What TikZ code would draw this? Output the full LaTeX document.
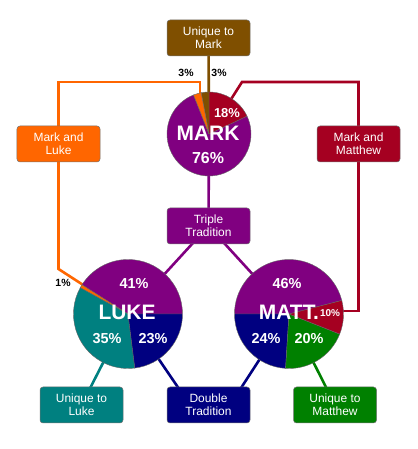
\documentclass[tikz,border=0pt]{standalone}
\usepackage{fontspec}
\setmainfont{Liberation Sans}
\usetikzlibrary{backgrounds}
\definecolor{mpurple}{HTML}{800080}
\definecolor{mred}{HTML}{A50021}
\definecolor{morange}{HTML}{FF6600}
\definecolor{mbrown}{HTML}{7F4F00}
\definecolor{mteal}{HTML}{008080}
\definecolor{mnavy}{HTML}{000080}
\definecolor{mgreen}{HTML}{008000}
\tikzset{
  box/.style={rectangle, rounded corners=3bp, draw=black!55, line width=0.5bp,
    minimum width=83bp, minimum height=36bp, text=white, align=center,
    font=\fontsize{12}{13.5}\selectfont, inner sep=0pt},
  conn/.style={line width=2.6bp},
  slice/.style={draw=black!60, line width=0.4bp},
  pct/.style={text=white, font=\bfseries\fontsize{14.5}{14.5}\selectfont, inner sep=0pt},
  big/.style={text=white, font=\bfseries\fontsize{21}{21}\selectfont, inner sep=0pt},
  small/.style={text=black, font=\bfseries\fontsize{10.5}{10.5}\selectfont, inner sep=0pt}
}
\newcommand{\pieslice}[5]{% center, radius, start, end, color
  \filldraw[slice, fill=#5] (#1) -- ++(#3:#2) arc[start angle=#3, end angle=#4, radius=#2] -- cycle;}
\begin{document}
\begin{tikzpicture}[x=1bp,y=1bp]
\useasboundingbox (0,0) rectangle (417,449);
% centers
\coordinate (markc) at (209,315);
\coordinate (lukec) at (128,135);
\coordinate (mattc) at (289,135);
% boxes
\node[box, fill=mbrown] (umark) at (208.5,411) {Unique to\\Mark};
\node[box, fill=morange] (mluke) at (58.5,305) {Mark and\\Luke};
\node[box, fill=mred] (mmatt) at (358.5,305) {Mark and\\Matthew};
\node[box, fill=mpurple] (triple) at (208.5,223) {Triple\\Tradition};
\node[box, fill=mteal] (uluke) at (81.5,44) {Unique to\\Luke};
\node[box, fill=mnavy] (dbl) at (208.5,44) {Double\\Tradition};
\node[box, fill=mgreen] (umatt) at (335,44) {Unique to\\Matthew};
% connector waypoints
\coordinate (otop) at (58.5,367);
\coordinate (otopr) at (200,367);
\coordinate (omark) at (200,315);
\coordinate (obot) at (58.5,180);
\coordinate (rtop) at (358.5,367);
\coordinate (rtopl) at (242,367);
\coordinate (rbot) at (358.5,138);
\coordinate (rmatt) at (289,138);
\coordinate (dl) at (190,44);
\coordinate (dr) at (230,44);
% connectors (behind)
\begin{scope}[on background layer]
\draw[conn, mbrown] (umark.center) -- (markc);
\draw[conn, morange] (mluke.center) -- (otop) -- (otopr) -- (omark);
\draw[conn, morange] (mluke.center) -- (obot) -- (lukec);
\draw[conn, mred] (mmatt.center) -- (rtop) -- (rtopl) -- (markc);
\draw[conn, mred] (mmatt.center) -- (rbot) -- (rmatt);
\draw[conn, mpurple] (markc) -- (triple.center);
\draw[conn, mpurple] (triple.center) -- (lukec);
\draw[conn, mpurple] (triple.center) -- (mattc);
\draw[conn, mnavy] (dl) -- (lukec);
\draw[conn, mnavy] (dr) -- (mattc);
\draw[conn, mteal] (uluke.center) -- (lukec);
\draw[conn, mgreen] (umatt.center) -- (mattc);
\end{scope}
% Mark pie
\pieslice{markc}{42}{111.6}{385.2}{mpurple}
\pieslice{markc}{42}{25.2}{90}{mred}
\pieslice{markc}{42}{90}{100.8}{mbrown}
\pieslice{markc}{42}{100.8}{111.6}{morange}
% Luke pie
\pieslice{lukec}{54.5}{0}{147.6}{mpurple}
\pieslice{lukec}{54.5}{147.6}{151.2}{morange}
\pieslice{lukec}{54.5}{151.2}{277.2}{mteal}
\pieslice{lukec}{54.5}{277.2}{360}{mnavy}
% Matt pie
\pieslice{mattc}{54.5}{14.4}{180}{mpurple}
\pieslice{mattc}{54.5}{180}{266.4}{mnavy}
\pieslice{mattc}{54.5}{266.4}{338.4}{mgreen}
\pieslice{mattc}{54.5}{338.4}{374.4}{mred}
% labels
\node[pct, font=\bfseries\fontsize{13}{13}\selectfont] (m18) at (227,336) {18\%};
\node[big] (markt) at (208,316) {MARK};
\node[pct, font=\bfseries\fontsize{16}{16}\selectfont] (m76) at (208,291) {76\%};
\node[pct] (l41) at (134,165) {41\%};
\node[big] (luket) at (127,137) {LUKE};
\node[pct] (l35) at (107,110) {35\%};
\node[pct] (l23) at (153,110) {23\%};
\node[pct] (t46) at (287,165) {46\%};
\node[big] (mattt) at (289,137) {MATT.};
\node[pct, font=\bfseries\fontsize{10}{10}\selectfont] (t10) at (330,136) {10\%};
\node[pct] (t24) at (266,110) {24\%};
\node[pct] (t20) at (309,110) {20\%};
\node[small] (p3a) at (186,376) {3\%};
\node[small] (p3b) at (219,376) {3\%};
\node[small] (p1) at (63,166) {1\%};
\end{tikzpicture}
\end{document}
